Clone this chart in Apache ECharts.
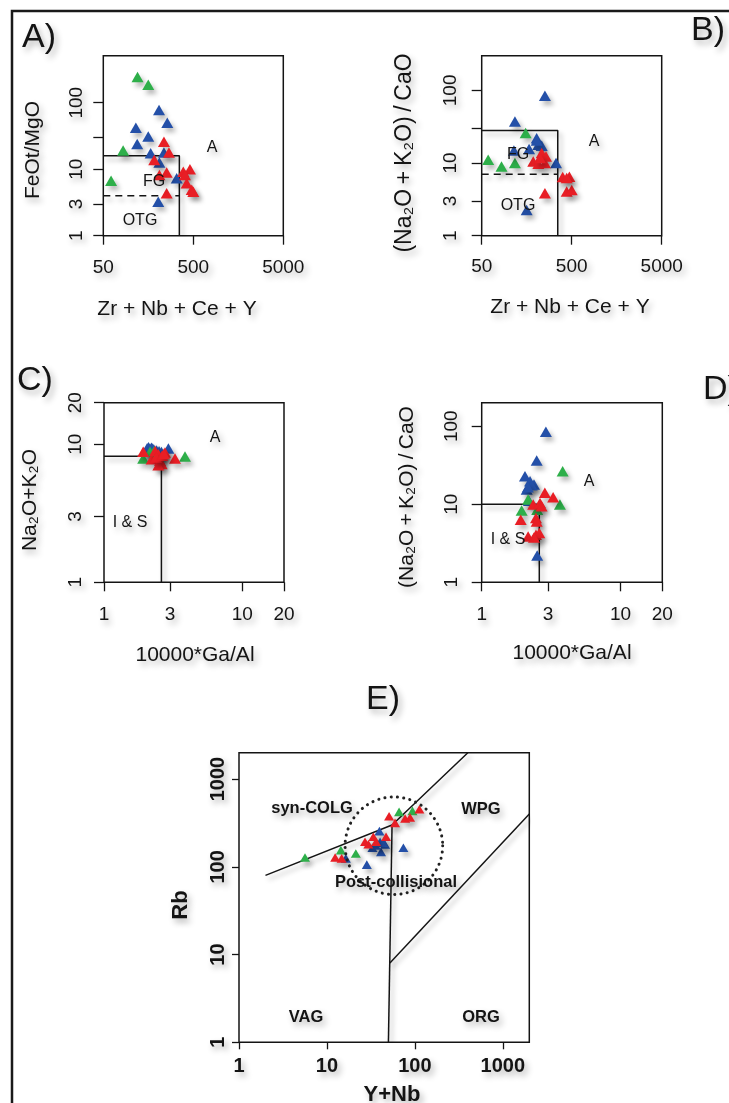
<!DOCTYPE html>
<html><head><meta charset="utf-8">
<script src="https://cdn.jsdelivr.net/npm/echarts@6/dist/echarts.min.js"></script>
<style>html,body{margin:0;padding:0;background:#fff}#c{width:729px;height:1103px}</style>
</head><body><div id="c"></div>
<script>
// ---------- DATA ----------
// Panel A: Zr+Nb+Ce+Y vs FeOt/MgO
const aGreen = [[120,243],[158,186],[83,19.1],[61,6.7]];
const aBlue  = [[208,78],[257,50],[115,42],[158,31],[119,24],[168,17.4],[236,17.8],[210,12.6],[327,7.3],[204,3.25]];
const aRed   = [[236,26],[268,17.8],[184,13.8],[210,8.2],[253,8.9],[253,4.35],[387,9.2],[459,10],[404,8.2],[422,6.15],[480,4.9],[500,4.6]];
// Panel B: Zr+Nb+Ce+Y vs (Na2O+K2O)/CaO
const bGreen = [[59,11.1],[83,8.95],[117,10],[154,25.8]];
const bBlue  = [[252,84.5],[117,37.4],[204,22],[213,17.8],[232,17.3],[168,15.6],[114,14.9],[335,10],[158,2.26],[204,20.5]];
const bRed   = [[232,13.7],[259,12.3],[187,10.5],[213,9.75],[252,10],[397,6.4],[471,6.5],[440,4.05],[500,4.27],[252,3.85],[440,6.2],[222,11.7]];
// Panel C: 10000*Ga/Al vs Na2O+K2O
const cBlue  = [[2.05,9.35],[2.1,9.5],[2.2,9.45],[2.15,9.2],[2.25,9.3],[2.3,9.1],[2.4,9.0],[2.5,8.9],[2.92,9.3],[2.6,8.8]];
const cGreen = [[1.92,7.88],[2.15,8.81],[3.85,8.15],[2.3,8.9]];
const cRed   = [[1.92,8.81],[2.21,7.8],[2.34,8.95],[2.47,8.47],[2.54,7.59],[2.76,8.7],[2.61,7.18],[2.47,7.06],[3.26,7.88],[2.38,8.01],[2.63,8.24],[2.71,8.5]];
// Panel D: 10000*Ga/Al vs (Na2O+K2O)/CaO
const dBlue  = [[2.9,85],[2.49,36.4],[2.05,22.9],[2.11,15.4],[2.23,19.7],[2.38,17.9],[2.29,17.5],[2.19,11.1],[2.51,2.2],[2.15,16.5]];
const dGreen = [[3.83,26.5],[2.16,11.5],[3.66,9.9],[1.94,8.3],[2.51,8.5]];
const dRed   = [[2.85,14],[3.27,12.3],[2.35,9.9],[2.63,10.4],[2.7,9.4],[1.91,6.34],[2.46,6.66],[2.49,6.0],[2.16,3.86],[2.46,4.06],[2.6,4.27],[2.38,3.75]];
// Panel E: Y+Nb vs Rb
const eBlue  = [[16.4,125],[28.4,106],[32.9,165],[39.5,255],[41.2,148],[40.2,193],[45.8,180],[74,165],[36,175],[43.8,188]];
const eGreen = [[5.63,128],[14.4,155],[21.3,142],[66.1,423],[93.8,434]];
const eRed   = [[12.4,128],[14.7,125],[27.1,193],[29.6,181],[33.7,220],[36.2,193],[47,220],[50.9,378],[59.5,317],[77.4,356],[88.2,365],[112.5,454]];

// field boundaries
const aFG  = [[50,16],[350,16],[350,1]];
const aOTG = [[50,4],[350,4]];
const bFG  = [[50,28],[350,28],[350,1]];
const bOTG = [[50,7],[350,7]];
const cIS  = [[1,8.2],[2.6,8.2],[2.6,1]];
const dIS  = [[1,10],[2.6,10],[2.6,1]];
const eSynColg = [[2,80],[55,300],[400,2000]];
const eVagOrg  = [[50,1],[55,300]];
const eWpgOrg  = [[52,8],[2000,400]];
const ePostColCenter = [57.7,174];
const ePostColEdge   = [207,174];

// axis ranges and ticks
const abX = {min:50, max:5000, ticks:[50,500,5000], labels:[50,500,5000]};
const aY  = {min:1, max:510, ticks:[1,3,10,30,100], labels:[1,3,10,100]};
const bY  = {min:1, max:300, ticks:[1,3,10,30,100], labels:[1,3,10,100]};
const cdX = {min:1, max:20, ticks:[1,3,10,20], labels:[1,3,10,20]};
const cY  = {min:1, max:20, ticks:[1,3,10,20], labels:[1,3,10,20]};
const dY  = {min:1, max:200, ticks:[1,10,100], labels:[1,10,100]};
const eX  = {min:1, max:2000, ticks:[1,10,100,1000], labels:[1,10,100,1000]};
const eY  = {min:1, max:2000, ticks:[1,10,100,1000], labels:[1,10,100,1000]};

// ---------- STYLE ----------
const FONT = '"Liberation Sans", Arial, Helvetica, sans-serif';
const GREEN = '#2EAF4A', BLUE = '#2450A8', RED = '#E81E25', INK = '#141414';
const TSH = {textShadowColor:'rgba(0,0,0,0.30)', textShadowBlur:6, textShadowOffsetX:3, textShadowOffsetY:4};
const ISH = {shadowColor:'rgba(0,0,0,0.30)', shadowBlur:5, shadowOffsetX:3, shadowOffsetY:4};

function fmt(v){ const r = Math.round(v); return Math.abs(v-r) < 1e-6*Math.max(1,Math.abs(v)) ? String(r) : String(+v.toPrecision(4)); }

function axis(gi, spec, margin, tickLen, bold, size){
  return {
    type:'log', logBase:10, gridIndex:gi, min:spec.min, max:spec.max,
    axisLine:{show:false}, splitLine:{show:false}, minorTick:{show:false},
    axisTick:{show:true, inside:false, length:tickLen, customValues:spec.ticks, lineStyle:{color:INK, width:1.3}},
    axisLabel:Object.assign({show:true, customValues:spec.labels, margin:margin, formatter:fmt,
      fontSize:size, fontFamily:FONT, fontWeight: bold?'bold':'normal', color:INK}, TSH)
  };
}
function yaxis(gi, spec, margin, tickLen, bold, size){
  const a = axis(gi, spec, margin, tickLen, bold, size);
  a.axisLabel.rotate = 90;
  return a;
}
const gridBase = {show:true, borderColor:INK, borderWidth:1.5, backgroundColor:'rgba(0,0,0,0)'};
const grids = [
  Object.assign({left:103.3, top:55.7, width:180, height:180}, gridBase),
  Object.assign({left:481.7, top:55.7, width:180, height:180}, gridBase),
  Object.assign({left:104, top:402.7, width:180, height:179.6}, gridBase),
  Object.assign({left:481.7, top:402.7, width:180.6, height:179.6}, gridBase),
  Object.assign({left:239, top:752.7, width:290.3, height:289.6}, gridBase)
];

function pts(data, color, gi, size){
  return {type:'scatter', xAxisIndex:gi, yAxisIndex:gi, data:data, symbol:'triangle', symbolSize:size,
    itemStyle:Object.assign({color:color, opacity:1}, ISH), z:4, silent:true};
}
function ln(data, gi, dashed){
  return {type:'line', xAxisIndex:gi, yAxisIndex:gi, data:data, symbol:'none', silent:true, z:3,
    lineStyle:Object.assign({color:INK, width:1.5, type: dashed ? [7,5] : 'solid'}, ISH)};
}
const S = [12,10.5], SE = [10,8.6];

const chart = echarts.init(document.getElementById('c'), null, {renderer:'canvas'});
chart.setOption({
  animation:false,
  backgroundColor:'#fff',
  grid: grids,
  xAxis: [
    axis(0, abX, 23, 9, false, 19),
    axis(1, abX, 22, 9, false, 19),
    axis(2, cdX, 23, 9, false, 19),
    axis(3, cdX, 23, 9, false, 19),
    axis(4, eX, 14, 7, true, 20)
  ],
  yAxis: [
    yaxis(0, aY, 17, 10, false, 19),
    yaxis(1, bY, 21, 10, false, 19),
    yaxis(2, cY, 19, 10, false, 19),
    yaxis(3, dY, 20.5, 10, false, 19),
    yaxis(4, eY, 11, 7, true, 20)
  ],
  series: [
    ln(aFG,0,false), ln(aOTG,0,true),
    ln(bFG,1,false), ln(bOTG,1,true),
    ln(cIS,2,false), ln(dIS,3,false),
    ln(eSynColg,4,false), ln(eVagOrg,4,false), ln(eWpgOrg,4,false),
    pts(aGreen,GREEN,0,S), pts(aBlue,BLUE,0,S), pts(aRed,RED,0,S),
    pts(bGreen,GREEN,1,S), pts(bBlue,BLUE,1,S), pts(bRed,RED,1,S),
    pts(cBlue,BLUE,2,S), pts(cGreen,GREEN,2,S), pts(cRed,RED,2,S),
    pts(dBlue,BLUE,3,S), pts(dGreen,GREEN,3,S), pts(dRed,RED,3,S),
    pts(eBlue,BLUE,4,SE), pts(eGreen,GREEN,4,SE), pts(eRed,RED,4,SE)
  ]
});

function T(text, x, y, size, opts){
  opts = opts || {};
  return {type:'text', x:x, y:y, rotation: opts.rot ? Math.PI/2 : 0, z:10, silent:true,
    style:Object.assign({text:text, fill:INK, fontSize:size, fontFamily:FONT, fontWeight: opts.bold?'bold':'normal',
      align:'center', verticalAlign:'middle', textAlign:'center', textVerticalAlign:'middle'}, TSH)};
}
const c0 = chart.convertToPixel({xAxisIndex:4, yAxisIndex:4}, ePostColCenter);
const c1 = chart.convertToPixel({xAxisIndex:4, yAxisIndex:4}, ePostColEdge);
const r = Math.hypot(c1[0]-c0[0], c1[1]-c0[1]);

const graphics = [
  {type:'rect', shape:{x:12, y:11, width:780, height:1160}, style:{fill:'none', stroke:'#1a1a1a', lineWidth:2.5}, z:1, silent:true},
  // panel letters
  T('A)', 39, 38, 34), T('B)', 708, 31, 34), T('C)', 35, 381, 34), T('D)', 721, 390, 34), T('E)', 383, 700, 34),
  // axis titles
  T('Zr + Nb + Ce + Y', 177, 309, 21), T('FeOt/MgO', 33, 150, 21, {rot:true}),
  T('Zr + Nb + Ce + Y', 570, 307, 21), T('(Na\u2082O\u2009+\u2009K\u2082O)\u2009/\u2009CaO', 405, 153, 23, {rot:true}),
  T('10000*Ga/Al', 195, 655, 21), T('Na\u2082O+K\u2082O', 30, 500, 21, {rot:true}),
  T('10000*Ga/Al', 572, 653, 21), T('(Na\u2082O\u2009+\u2009K\u2082O)\u2009/\u2009CaO', 407, 497, 21, {rot:true}),
  T('Y+Nb', 392, 1095, 22, {bold:true}), T('Rb', 181, 905, 22, {bold:true, rot:true}),
  // field labels
  T('A', 212, 148, 16), T('FG', 154, 182, 16), T('OTG', 140, 221, 16),
  T('A', 594, 142, 16), T('FG', 518, 155, 16), T('OTG', 518, 206, 16),
  T('A', 215, 438, 16), T('I & S', 130, 523, 16),
  T('A', 589, 482, 16), T('I & S', 508, 540, 16),
  T('syn-COLG', 312, 808, 16.5, {bold:true}), T('WPG', 481, 809, 16.5, {bold:true}),
  T('Post-collisional', 396, 882, 16.5, {bold:true}),
  T('VAG', 306, 1017, 16.5, {bold:true}), T('ORG', 481, 1017, 16.5, {bold:true}),
  // post-collisional field (dotted circle) anchored to the data scale
  {type:'circle', shape:{cx:c0[0], cy:c0[1], r:r}, z:5, silent:true,
   style:{fill:'none', stroke:'#222', lineWidth:3, lineDash:[0.1,6.2], lineCap:'round'}}
];
chart.setOption({graphic: graphics});
</script></body></html>
